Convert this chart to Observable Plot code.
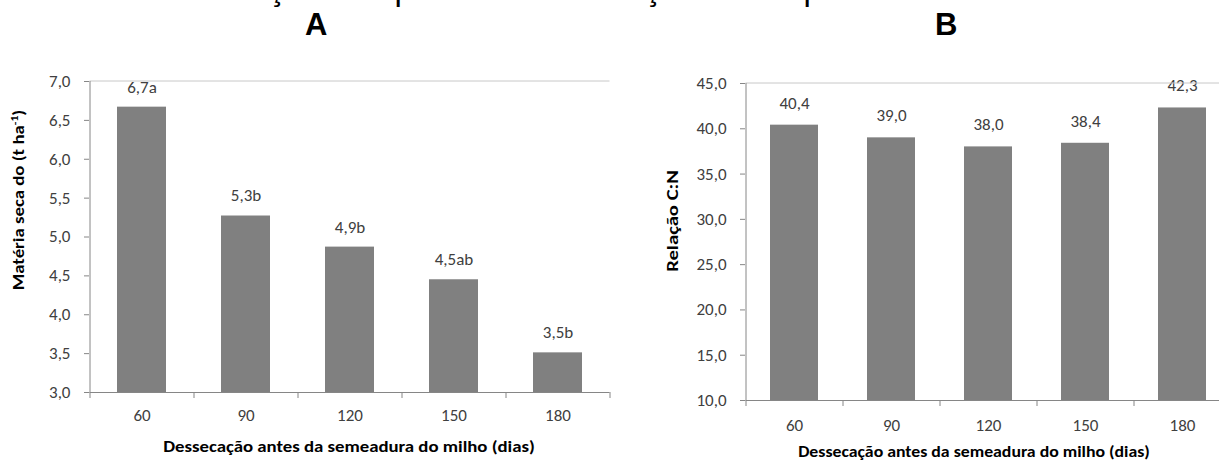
<!DOCTYPE html>
<html>
<head>
<meta charset="utf-8">
<script src="https://cdn.jsdelivr.net/npm/d3@7"></script>
<script src="https://cdn.jsdelivr.net/npm/@observablehq/plot@0.6"></script>
<style>
  html, body { margin: 0; padding: 0; background: #fff; }
  #root { position: relative; width: 1219px; height: 462px; overflow: hidden; background: #fff; }
  .abs { position: absolute; white-space: nowrap; }
  .letter { font-family: "Liberation Sans", Arial, sans-serif; font-weight: bold; font-size: 31px; line-height: 1; color: #000; }
  .figtitle { font-family: "Liberation Sans", Arial, sans-serif; font-weight: normal; font-size: 33px; line-height: 1; color: #000; }
  .xtitle { font-family: Carlito, Lato, sans-serif; font-weight: bold; font-size: 16px; line-height: 1; color: #000; }
  .ytitle { font-family: Carlito, Lato, sans-serif; font-weight: bold; font-size: 16px; line-height: 1; color: #000; }
  .ytitle sup { font-size: 10px; vertical-align: 6px; line-height: 0; }
</style>
</head>
<body>
<div id="root"></div>
<script>
// ---- data ----
const days = ["60", "90", "120", "150", "180"];
const materiaSeca = [6.67, 5.27, 4.87, 4.45, 3.51];
const materiaSecaLabels = ["6,7a", "5,3b", "4,9b", "4,5ab", "3,5b"];
const relacaoCN = [40.4, 39.0, 38.0, 38.4, 42.3];
const relacaoCNLabels = ["40,4", "39,0", "38,0", "38,4", "42,3"];
const yTicksA = [3.0, 3.5, 4.0, 4.5, 5.0, 5.5, 6.0, 6.5, 7.0];
const yTicksB = [10, 15, 20, 25, 30, 35, 40, 45];
const xTitle = "Dessecação antes da semeadura do milho (dias)";
const yTitleA = "Matéria seca do (t ha<sup>-1</sup>)";
const yTitleB = "Relação C:N";
const figTitle = "em função da época de dessecação das espécies";

const fmt = d => d.toFixed(1).replace(".", ",");
const barColor = "#808080";
const axisColor = "#868686";
const gridColor = "#c8c8c8";
const textColor = "#404040";

// custom mark: axis lines, category boundary ticks, top gridline, all from scales
function axisFrame() {
  return (index, scales) => {
    const x = scales.x, y = scales.y;
    const dom = x.domain();
    const step = x.step(), bw = x.bandwidth();
    const half = (step - bw) / 2;
    const bounds = dom.map(c => x(c) - half);
    bounds.push(x(dom[dom.length - 1]) + bw + half);
    const [ymin, ymax] = y.domain();
    const yb = y(ymin), yt = y(ymax);
    const g = d3.create("svg:g");
    g.append("line").attr("x1", bounds[0]).attr("x2", bounds[bounds.length - 1])
      .attr("y1", yt).attr("y2", yt).attr("stroke", gridColor);
    g.append("line").attr("x1", bounds[0] + 0.5).attr("x2", bounds[0] + 0.5)
      .attr("y1", yt).attr("y2", yb).attr("stroke", axisColor);
    g.append("line").attr("x1", bounds[0]).attr("x2", bounds[bounds.length - 1])
      .attr("y1", yb + 0.5).attr("y2", yb + 0.5).attr("stroke", axisColor);
    for (const b of bounds) {
      g.append("line").attr("x1", b + 0.5).attr("x2", b + 0.5)
        .attr("y1", yb).attr("y2", yb + 6).attr("stroke", axisColor);
    }
    return g.node();
  };
}

function panel({values, labels, yDomain, yTicks, width, marginLeft, marginRight, marginTop, marginBottom, labelDy, pad, xPad}) {
  const data = days.map((d, i) => ({day: d, v: values[i], lab: labels[i]}));
  return Plot.plot({
    width, height: 462,
    marginLeft, marginRight, marginTop, marginBottom,
    style: {fontFamily: "Carlito, Lato, sans-serif", fontSize: "17px", color: textColor, background: "transparent", overflow: "visible"},
    x: {domain: days, paddingInner: pad, paddingOuter: pad / 2, label: null},
    y: {domain: yDomain, label: null},
    marks: [
      Plot.barY(data, {x: "day", y1: yDomain[0], y2: "v", fill: barColor}),
      Plot.text(data, {x: "day", y: "v", text: "lab", dy: labelDy, fontSize: 17, fill: textColor}),
      Plot.axisY({ticks: yTicks, tickFormat: fmt, tickSize: 5, tickPadding: 14, fontSize: 17, stroke: axisColor, label: null}),
      Plot.axisX({tickSize: 0, tickPadding: xPad, fontSize: 17, label: null}),
      axisFrame()
    ]
  });
}

const root = document.getElementById("root");

function addDiv(cls, html, left, top) {
  const d = document.createElement("div");
  d.className = "abs " + cls;
  d.innerHTML = html;
  d.style.left = left + "px";
  d.style.top = top + "px";
  root.appendChild(d);
  return d;
}

// Centered text, stretched along its length to a target length
function addCentered(cls, html, cx, cy, targetLen, rotate) {
  const d = addDiv(cls, html, cx, cy);
  const w = d.offsetWidth;
  const s = targetLen / w;
  d.style.transform = "translate(-50%, -50%)" + (rotate ? " rotate(-90deg)" : "") + " scaleX(" + s + ")";
  return d;
}

// Panel A
const a = panel({values: materiaSeca, labels: materiaSecaLabels, yDomain: [3, 7], yTicks: yTicksA,
  width: 615, marginLeft: 89, marginRight: 6, marginTop: 81, marginBottom: 70, labelDy: -20, pad: 0.53, xPad: 16});
a.style.position = "absolute"; a.style.left = "0px"; a.style.top = "0px";
root.appendChild(a);

// Panel B
const b = panel({values: relacaoCN, labels: relacaoCNLabels, yDomain: [10, 45], yTicks: yTicksB,
  width: 610, marginLeft: 125, marginRight: 0, marginTop: 83, marginBottom: 62, labelDy: -22, pad: 0.51, xPad: 18});
b.style.position = "absolute"; b.style.left = "620px"; b.style.top = "0px";
root.appendChild(b);

// Titles and letters (the figure caption is cropped at the top edge, as in the original)
addDiv("figtitle", figTitle, 167, -28);
addDiv("letter", "A", 305, 9);
addDiv("letter", "B", 935, 9);
addCentered("xtitle", xTitle, 349, 447, 372, false);
addCentered("xtitle", xTitle, 974, 452, 352, false);
addCentered("ytitle", yTitleA, 19, 200, 180, true);
addCentered("ytitle", yTitleB, 673, 221, 102, true);
</script>
</body>
</html>
